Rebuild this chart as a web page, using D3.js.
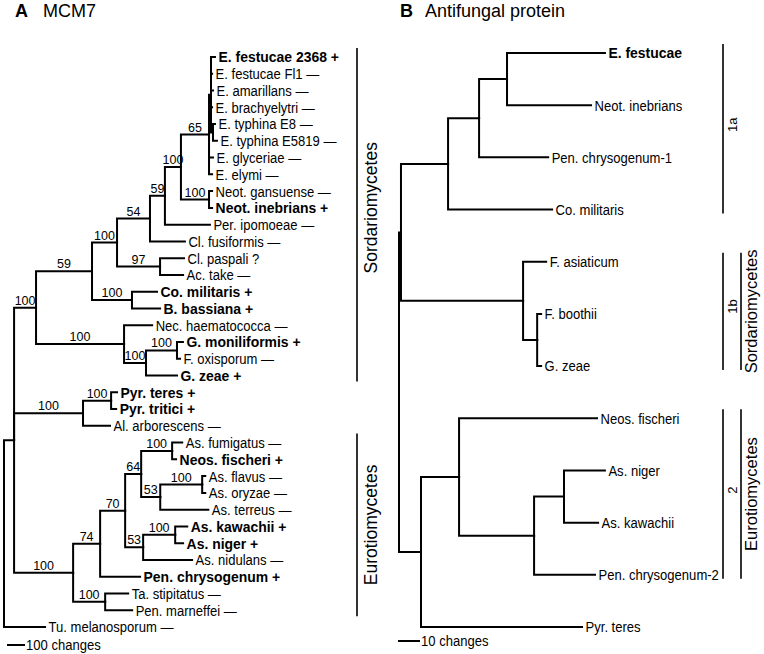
<!DOCTYPE html>
<html><head><meta charset="utf-8">
<script src="https://cdn.jsdelivr.net/npm/d3@7"></script>
<style>body{margin:0;background:#fff}svg{display:block}</style>
</head><body>
<svg id="c" width="764" height="654"></svg>
<script>
// ---------- DATA ----------
// Panel titles
const panelLetters = ["A", "B"];
const panelTitles = ["MCM7", "Antifungal protein"];

// Tree A (MCM7): [id, parent, branch length (changes), bootstrap, leaf mark]
const mcm7Edges = [
  ["rA", null, 0, null, null],
  ["n1", "rA", 56, null, null],
  ["sord", "n1", 122, 100, null],
  ["hyp", "sord", 311, 59, null],
  ["c1", "hyp", 139, 100, null],
  ["n54", "c1", 183, 54, null],
  ["n59", "n54", 83, 59, null],
  ["n100", "n59", 89, 100, null],
  ["epi", "n100", 156, 65, null],
  ["epiF", "epi", 11, null, null],
  ["E. festucae 2368", "epiF", 22, null, "+"],
  ["E. festucae Fl1", "epiF", 6, null, "—"],
  ["E. amarillans", "epiF", 11, null, "—"],
  ["E. brachyelytri", "epiF", 6, null, "—"],
  ["typh", "epiF", 11, null, null],
  ["E. typhina E8", "typh", 11, null, "—"],
  ["E. typhina E5819", "typh", 22, null, "—"],
  ["E. glyceriae", "epi", 22, null, "—"],
  ["E. elymi", "epi", 17, null, "—"],
  ["neot", "n100", 156, 100, null],
  ["Neot. gansuense", "neot", 17, null, "—"],
  ["Neot. inebrians", "neot", 17, null, "+"],
  ["Per. ipomoeae", "n59", 250, null, "—"],
  ["Cl. fusiformis", "n54", 194, null, "—"],
  ["n97", "c1", 239, 97, null],
  ["Cl. paspali", "n97", 133, null, "?"],
  ["Ac. take", "n97", 128, null, "—"],
  ["cord", "hyp", 222, 100, null],
  ["Co. militaris", "cord", 139, null, "+"],
  ["B. bassiana", "cord", 156, null, "+"],
  ["fus", "sord", 489, 100, null],
  ["Nec. haematococca", "fus", 156, null, "—"],
  ["gib", "fus", 122, 100, null],
  ["gm", "gib", 172, 100, null],
  ["G. moniliformis", "gm", 33, null, "+"],
  ["F. oxisporum", "gm", 17, null, "—"],
  ["G. zeae", "gib", 172, null, "+"],
  ["doth", "n1", 383, 100, null],
  ["pyr", "doth", 156, 100, null],
  ["Pyr. teres", "pyr", 33, null, "+"],
  ["Pyr. tritici", "pyr", 28, null, "+"],
  ["Al. arborescens", "doth", 150, null, "—"],
  ["euro", "n1", 328, 100, null],
  ["n74", "euro", 150, 74, null],
  ["n70", "n74", 139, 70, null],
  ["n64", "n70", 89, 64, null],
  ["fum", "n64", 172, 100, null],
  ["As. fumigatus", "fum", 56, null, "—"],
  ["Neos. fischeri", "fum", 22, null, "+"],
  ["n53a", "n64", 106, 53, null],
  ["flav", "n53a", 233, 100, null],
  ["As. flavus", "flav", 17, null, "—"],
  ["As. oryzae", "flav", 17, null, "—"],
  ["As. terreus", "n53a", 267, null, "—"],
  ["n53b", "n70", 100, 53, null],
  ["kaw", "n53b", 178, 100, null],
  ["As. kawachii", "kaw", 67, null, "+"],
  ["As. niger", "kaw", 44, null, "+"],
  ["As. nidulans", "n53b", 272, null, "—"],
  ["Pen. chrysogenum", "n74", 222, null, "+"],
  ["tal", "euro", 178, 100, null],
  ["Ta. stipitatus", "tal", 128, null, "—"],
  ["Pen. marneffei", "tal", 150, null, "—"],
  ["Tu. melanosporum", "rA", 228, null, "—"]
];

// Tree B (Antifungal protein): [id, parent, branch length (changes)]
const afpEdges = [
  ["rB", null, 0],
  ["g1", "rB", 0.9],
  ["g1a", "g1", 21.4],
  ["fnp", "g1a", 14.1],
  ["fn", "fnp", 12.7],
  ["E. festucae", "fn", 44.5],
  ["Neot. inebrians", "fn", 38.2],
  ["Pen. chrysogenum-1", "fnp", 31.4],
  ["Co. militaris", "g1a", 47.3],
  ["g1b", "g1", 55.5],
  ["F. asiaticum", "g1b", 10.5],
  ["fg", "g1b", 6.4],
  ["F. boothii", "fg", 1.8],
  ["G. zeae", "fg", 1.8],
  ["x2", "rB", 10],
  ["g2", "x2", 17.3],
  ["Neos. fischeri", "g2", 62.7],
  ["asp", "g2", 34.1],
  ["nk", "asp", 13.6],
  ["As. niger", "nk", 18.6],
  ["As. kawachii", "nk", 15.5],
  ["Pen. chrysogenum-2", "asp", 27.7],
  ["Pyr. teres", "x2", 73.2]
];
const afpBold = ["E. festucae"];

// Clade bars: [label, first leaf, last leaf]
const mcm7Clades = [
  ["Sordariomycetes", "E. festucae 2368", "G. zeae"],
  ["Eurotiomycetes", "As. fumigatus", "Pen. marneffei"]
];
const afpGroups = [
  ["1a", "E. festucae", "Co. militaris"],
  ["1b", "F. asiaticum", "G. zeae"],
  ["2", "Neos. fischeri", "Pen. chrysogenum-2"]
];
const afpClasses = [
  ["Sordariomycetes", "F. asiaticum", "G. zeae"],
  ["Eurotiomycetes", "Neos. fischeri", "Pen. chrysogenum-2"]
];
const scaleBarLabels = ["100 changes", "10 changes"];
const scaleBarValues = [100, 10];

// ---------- DRAW ----------
const svg = d3.select("#c");
const SANS = "'Liberation Sans',Arial,sans-serif";
const NARROW_REG = 0.87, NARROW_BOLD = 0.93; // horizontal condensing of leaf labels

function buildTree(edges, cfg) {
  const root = d3.stratify().id(d => d[0]).parentId(d => d[1])(edges);
  root.eachBefore(n => { n.dist = n.parent ? n.parent.dist + n.data[2] : 0; });
  const maxD = d3.max(root.leaves(), l => l.dist);
  const x = d3.scaleLinear().domain([0, maxD]).range([cfg.x0, cfg.x0 + maxD * cfg.k]);
  const leaves = root.leaves();
  const y = d3.scaleLinear().domain([0, leaves.length - 1]).range([cfg.y0, cfg.y1]);
  leaves.forEach((l, i) => { l.py = y(i); });
  root.eachAfter(n => {
    if (n.children) n.py = (n.children[0].py + n.children[n.children.length - 1].py) / 2;
  });
  root.each(n => { n.px = x(n.dist); });
  return { root, x, leaves };
}

function narrowText(sel, x, y, bold) {
  return sel.attr("transform", d => `translate(${x(d)},${y(d)}) scale(${bold(d) ? NARROW_BOLD : NARROW_REG},1)`)
    .attr("dy", "0.36em").attr("font-family", SANS).attr("font-size", 15)
    .attr("font-weight", d => bold(d) ? "bold" : "normal");
}

function drawTree(t, cfg) {
  const g = svg.append("g");
  const links = t.root.descendants().filter(n => n.parent);
  g.selectAll("path.br").data(links).enter().append("path")
    .attr("d", n => `M${n.parent.px},${n.parent.py}V${n.py}H${n.px}`)
    .attr("fill", "none").attr("stroke", "#000").attr("stroke-width", 2)
    .attr("stroke-linejoin", "miter").attr("stroke-linecap", "square");
  narrowText(g.selectAll("text.leaf").data(t.leaves).enter().append("text"),
      n => n.px + cfg.gap, n => n.py, cfg.bold)
    .text(n => cfg.label(n));
  return g;
}

// Tree A
const tA = buildTree(mcm7Edges, { x0: 4, k: 0.18, y0: 57, y1: 627 });
const gA = drawTree(tA, {
  gap: 3.5,
  bold: n => n.data[4] === "+",
  label: n => n.id + " " + n.data[4]
});
gA.selectAll("text.sup").data(tA.root.descendants().filter(n => n.data[3] != null)).enter()
  .append("text")
  .attr("x", n => (n.parent.px + n.px) / 2).attr("y", n => n.py - 3)
  .attr("text-anchor", "middle").attr("font-family", SANS).attr("font-size", 12.5)
  .text(n => n.data[3]);

// Tree B
const tB = buildTree(afpEdges, { x0: 399, k: 2.2, y0: 53, y1: 627 });
drawTree(tB, {
  gap: 3.5,
  bold: n => afpBold.includes(n.id),
  label: n => n.id
});

// Clade bars
function leafY(t, id) { return t.leaves.find(l => l.id === id).py; }
function cladeBar(t, list, barX, textX, fs, padTop, padBot, shifts) {
  list.forEach((c, i) => {
    const y1 = leafY(t, c[1]) - padTop, y2 = leafY(t, c[2]) + padBot;
    svg.append("line").attr("x1", barX).attr("x2", barX).attr("y1", y1).attr("y2", y2)
      .attr("stroke", "#000").attr("stroke-width", 1.6);
    svg.append("text").attr("transform", `translate(${textX},${(y1 + y2) / 2 + shifts[i]}) rotate(-90)`)
      .attr("text-anchor", "middle").attr("font-family", SANS).attr("font-size", fs)
      .text(c[0]);
  });
}
cladeBar(tA, mcm7Clades, 357, 377, 17.5, 9, 6, [-7, 0]);
cladeBar(tB, afpGroups, 723, 737, 13, 9, 4, [-4, -5, -4]);
cladeBar(tB, afpClasses, 741, 757, 16.5, 9, 4, [0, 0]);

// Scale bars
[[tA, 7, 645], [tB, 398, 641]].forEach((s, i) => {
  const t = s[0];
  const len = t.x(scaleBarValues[i]) - t.x(0);
  svg.append("line").attr("x1", s[1]).attr("x2", s[1] + len).attr("y1", s[2]).attr("y2", s[2])
    .attr("stroke", "#000").attr("stroke-width", 2);
  narrowText(svg.append("text").datum(s), () => s[1] + len + 1, () => s[2], () => false)
    .text(scaleBarLabels[i]);
});

// Titles
[[15, 43], [400, 425]].forEach((p, i) => {
  svg.append("text").attr("x", p[0]).attr("y", 17).attr("font-family", SANS)
    .attr("font-weight", "bold").attr("font-size", 18).text(panelLetters[i]);
  svg.append("text").attr("x", p[1]).attr("y", 17).attr("font-family", SANS)
    .attr("font-size", 18).text(panelTitles[i]);
});
</script>
</body></html>
